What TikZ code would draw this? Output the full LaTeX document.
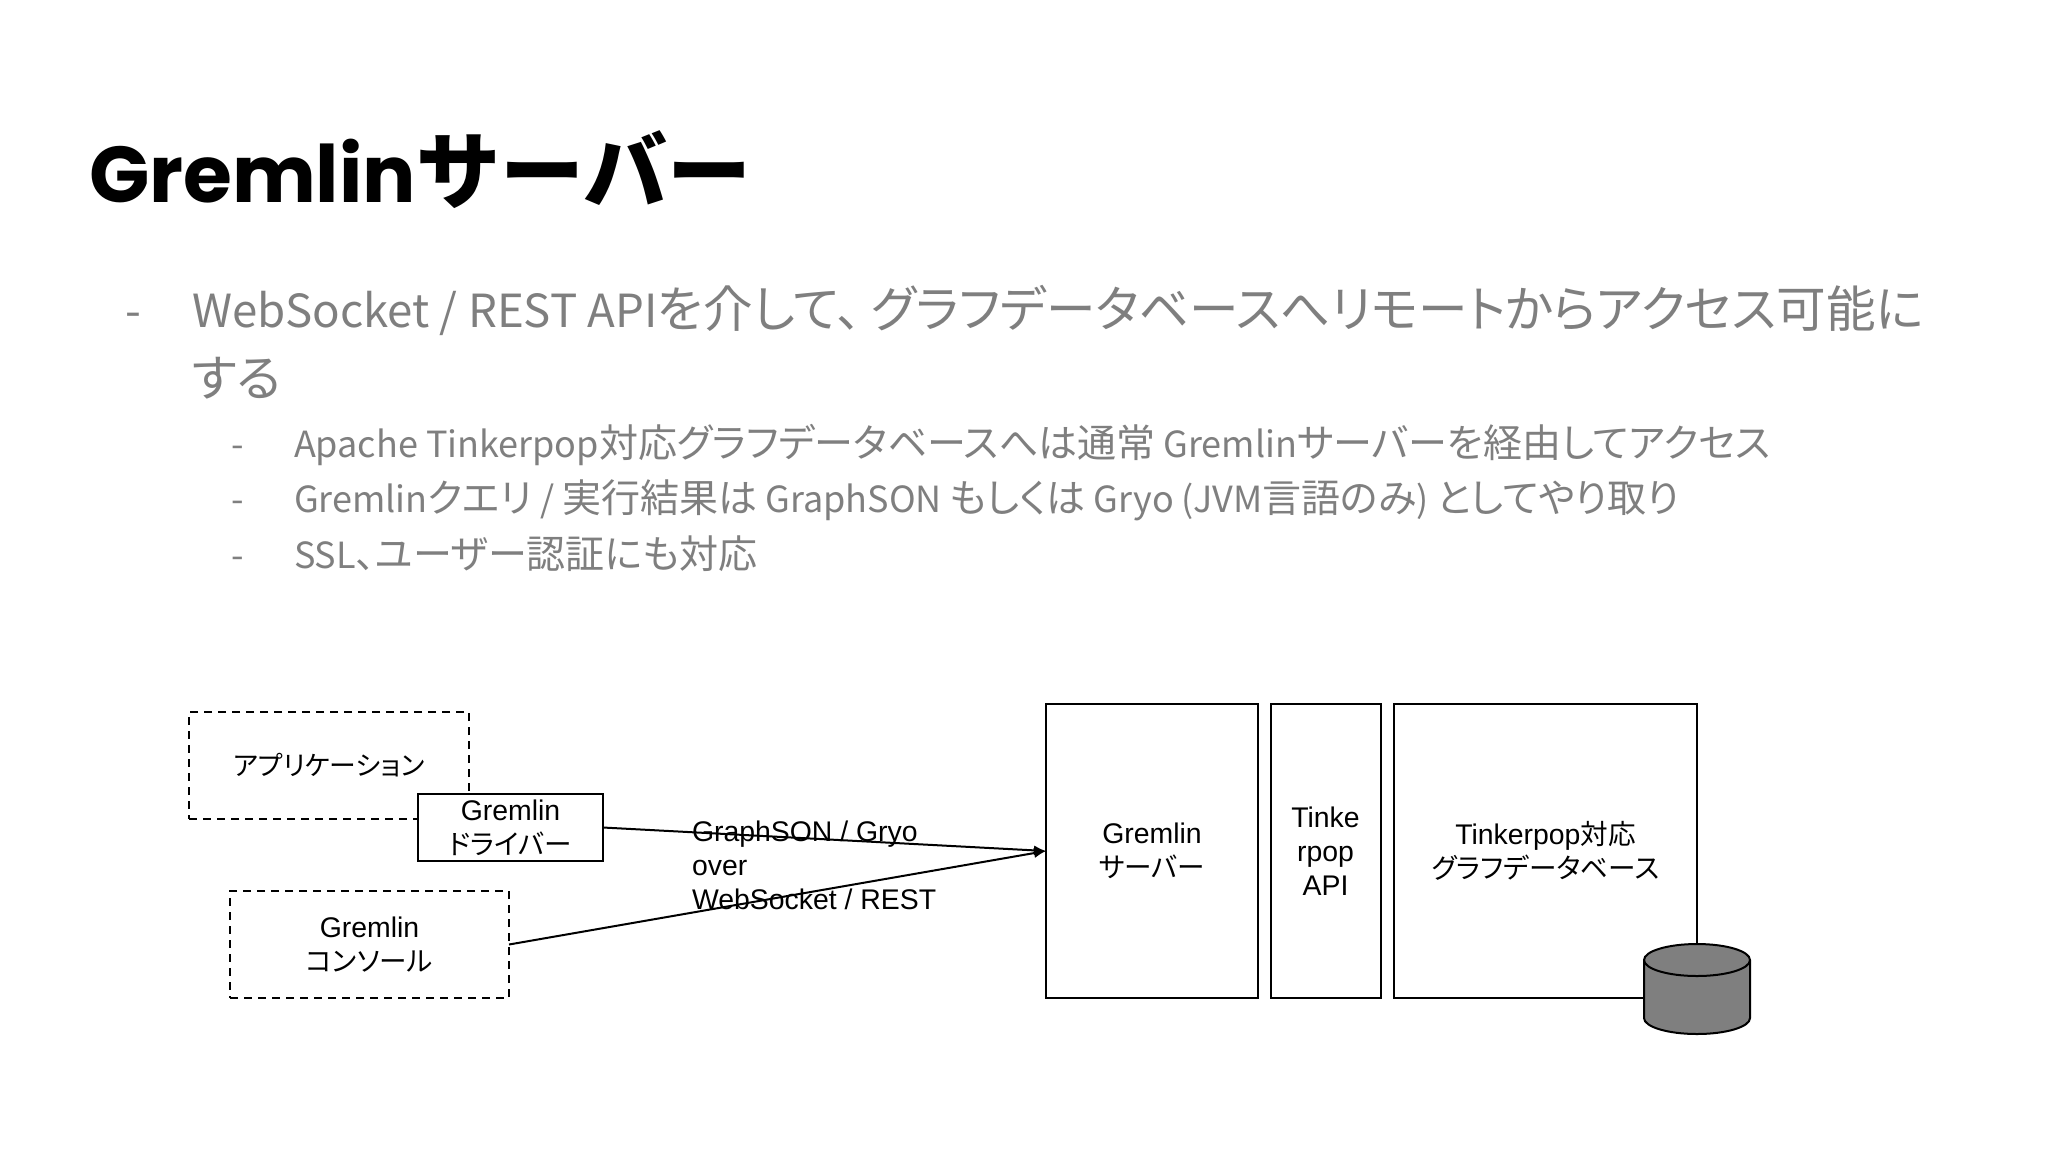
\documentclass[tikz,border=0pt]{standalone}
\usepackage{fontspec}
\usetikzlibrary{arrows.meta}
\setmainfont{Liberation Sans}
\newfontfamily\jp[RawFeature={+palt}]{Noto Sans CJK JP}
\newfontfamily\jpfull{Noto Sans CJK JP}
\newfontfamily\titlefont{Poppins}
\newcommand\LA[1]{{\jpfull\fontsize{22.8}{24}\selectfont #1}}
\newcommand\LB[1]{{\jpfull\fontsize{18}{18}\selectfont #1}}
\newcommand\DK[1]{{\jp\fontsize{13.8}{17}\selectfont #1}}
\definecolor{bodygray}{HTML}{7F7F7F}
\tikzset{
  x=0.5pt,y=-0.5pt,
  txt/.style={anchor=base west,inner sep=0pt,outer sep=0pt},
  lvlone/.style={txt,text=bodygray,font=\jp\fontsize{24.8}{25}\selectfont},
  lvltwo/.style={txt,text=bodygray,font=\jp\fontsize{19.5}{20}\selectfont},
  box/.style={draw=black,line width=1pt,fill=white,inner sep=0pt,outer sep=0pt,align=center,
    font=\fontsize{14.2}{17}\selectfont,text=black},
  dbox/.style={box,dash pattern=on 4pt off 3pt},
  flow/.style={draw=black,line width=1pt,-{Latex[length=6pt,width=5pt]}},
}
\begin{document}
\begin{tikzpicture}
\useasboundingbox (0,0) rectangle (2048,1152);
\fill[white] (0,0) rectangle (2048,1152);
\node[txt] (title) at (89,202) {{\fontsize{39.6}{42}\selectfont\titlefont\bfseries Gremlin}{\fontsize{42}{42}\selectfont\jpfull\bfseries サーバー}};
\node[lvlone] (d1) at (125,327) {\LA{-}};
\node[lvlone] (l1) at (192,327) {\LA{WebSocket / REST API}を介して、\kern5ptグラフデータベースへリモートからアクセス可能に};
\node[lvlone] (l1b) at (192,396) {する};
\node[lvltwo] (d2) at (231,457) {\LB{-}};
\node[lvltwo] (l2) at (294,457) {\LB{Apache Tinkerpop}対応グラフデータベースへは通常\LB{ Gremlin}サーバーを経由してアクセス};
\node[lvltwo] (d3) at (231,512) {\LB{-}};
\node[lvltwo] (l3) at (294,512) {\LB{Gremlin}クエリ\LB{ / }実行結果は\LB{ GraphSON }もしくは\LB{ Gryo (JVM}言語のみ\LB{) }としてやり取り};
\node[lvltwo] (d4) at (231,568) {\LB{-}};
\node[lvltwo] (l4) at (294,568) {\LB{SSL}、ユーザー認証にも対応};

\node[dbox,minimum width=140pt,minimum height=53.5pt] (app) at (329,765.5) {{\jp\fontsize{13.4}{17}\selectfont アプリケーション}};
\node[box,minimum width=92.5pt,minimum height=33.5pt] (drv) at (510.5,827.5) {Gremlin\\\DK{ドライバー}};
\node[dbox,minimum width=139.5pt,minimum height=53.5pt] (con) at (369.5,944.5) {Gremlin\\\DK{コンソール}};
\node[box,minimum width=106pt,minimum height=147pt] (srv) at (1152,851) {Gremlin\\\DK{サーバー}};
\node[box,minimum width=55pt,minimum height=147pt] (api) at (1325.5,851) {Tinke\\rpop\\API};
\node[box,minimum width=151.5pt,minimum height=147pt] (db) at (1545.5,851) {Tinkerpop\DK{対応}\\\DK{グラフデータベース}};
\draw[flow] (drv.east) -- (srv.west);
\draw[flow] (con.east) -- (srv.west);
\node[txt,align=left,font=\fontsize{14.2}{17}\selectfont] (lab) at (692,909) {GraphSON / Gryo\\over\\WebSocket / REST};
\draw[line width=1pt,fill=bodygray] (1644,960) -- (1644,1018) arc[start angle=180,end angle=360,x radius=53,y radius=-16] -- (1750,960) arc[start angle=0,end angle=180,x radius=53,y radius=-16] -- cycle;
\draw[line width=1pt] (1644,960) arc[start angle=180,end angle=360,x radius=53,y radius=-16];
\end{tikzpicture}
\end{document}
